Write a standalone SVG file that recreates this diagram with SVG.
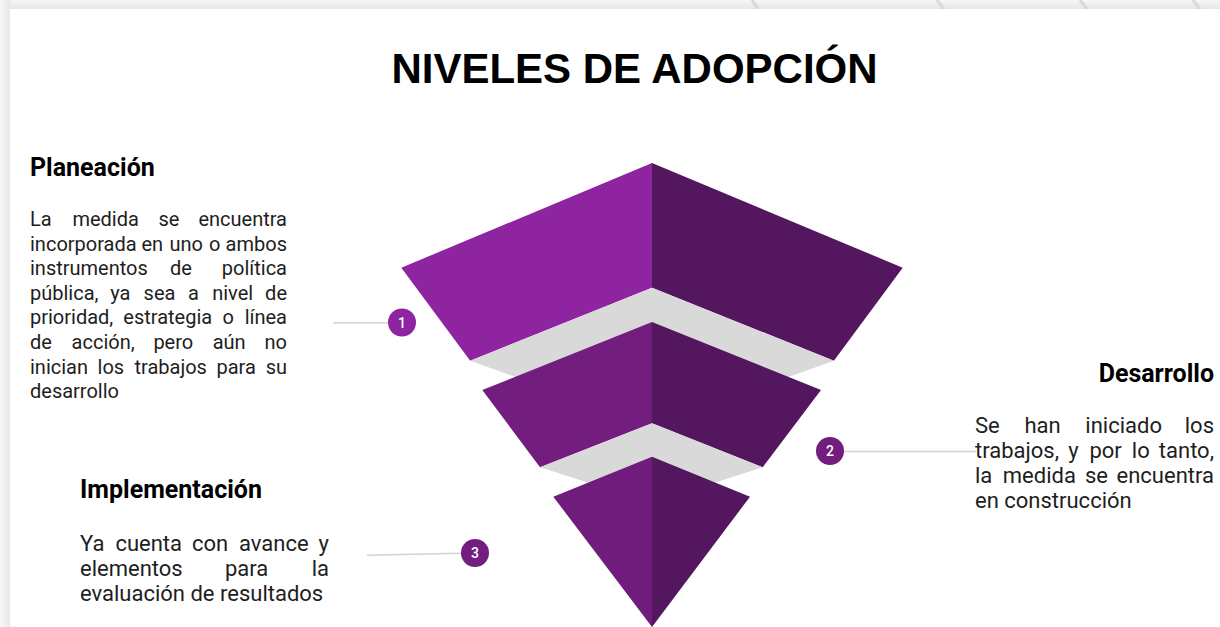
<svg xmlns="http://www.w3.org/2000/svg" width="1220" height="627" viewBox="0 0 1220 627">
<defs>
<linearGradient id="gTop" x1="0" y1="0" x2="0" y2="1"><stop offset="0" stop-color="#f6f6f6"/><stop offset="1" stop-color="#e4e4e4"/></linearGradient>
<linearGradient id="gLeft" x1="0" y1="0" x2="1" y2="0"><stop offset="0" stop-color="#f7f7f7"/><stop offset="1" stop-color="#e6e6e6"/></linearGradient>
</defs>
<style>
.title{font-family:"Liberation Sans",Arial,sans-serif;font-weight:bold;font-size:42px;fill:#000}
.head{font-family:Roboto,"Liberation Sans",sans-serif;font-weight:bold;font-size:25px;fill:#000}
.body20{font-family:Roboto,"Liberation Sans",sans-serif;font-size:20px;fill:#1e1e1e}
.body22{font-family:Roboto,"Liberation Sans",sans-serif;font-size:22px;fill:#1e1e1e}
.num{font-family:Roboto,"Liberation Sans",sans-serif;font-size:14px;font-weight:500;fill:#fff;text-anchor:middle}
.conn{stroke:#d3d3d3;stroke-width:1.6;fill:none}
.grey{fill:#d9d9d9}
.dark{fill:#54165e}
.stripe{stroke:#d8d8d8;stroke-width:3}
</style>
<rect x="0" y="0" width="1220" height="627" fill="#eeeeee"/>
<rect x="0" y="0" width="1220" height="10" fill="url(#gTop)"/>
<rect x="0" y="0" width="11" height="627" fill="url(#gLeft)"/>
<g id="stripes">
<line class="stripe" x1="752" y1="0" x2="758" y2="9"/>
<line class="stripe" x1="937" y1="0" x2="944" y2="9"/>
<line class="stripe" x1="1080" y1="0" x2="1087" y2="9"/>
<line class="stripe" x1="1193" y1="0" x2="1200" y2="9"/>
</g>
<rect x="10" y="9" width="1210" height="618" fill="#ffffff"/>

<text class="title" x="634.5" y="83" text-anchor="middle">NIVELES DE ADOPCIÓN</text>

<g id="connectors">
<line class="conn" x1="333" y1="322.7" x2="390" y2="322.7"/>
<line class="conn" x1="842" y1="451.5" x2="976" y2="451.5"/>
<line class="conn" x1="367" y1="555.3" x2="463" y2="553.3"/>
</g>

<g id="pyramid">
<g id="tier1">
<polygon points="652,163 401.3,267.7 470.2,360.7 652,287.7" fill="#8e24a0"/>
<polygon class="dark" points="652,163 902.7,267.7 833.9,360.7 652,287.7"/>
</g>
<polygon id="band1" class="grey" points="470.2,360.7 652,287.7 833.9,360.7 652,426"/>
<g id="tier2">
<polygon points="652,322 482.3,390 540,467.3 652,423.3" fill="#731d7f"/>
<polygon class="dark" points="652,322 821,390 762.7,467.3 652,423.3"/>
</g>
<polygon id="band2" class="grey" points="540,467.3 652,423.3 762.7,467.3 652,503"/>
<g id="tier3">
<polygon points="652,456.7 553.3,496.7 652,627" fill="#701c7c"/>
<polygon class="dark" points="652,456.7 750,496.7 652,627"/>
</g>
</g>

<g id="badge1">
<circle cx="402" cy="322.5" r="14" fill="#8e24a0"/>
<text class="num" x="402" y="327.5">1</text>
</g>
<g id="badge2">
<circle cx="830" cy="451" r="14" fill="#731d7f"/>
<text class="num" x="830" y="456">2</text>
</g>
<g id="badge3">
<circle cx="475" cy="553" r="14" fill="#731d7f"/>
<text class="num" x="475" y="558">3</text>
</g>

<g id="planeacion">
<text class="head" x="30" y="176">Planeación</text>
<text class="body20" y="226"><tspan x="30">La</tspan><tspan x="72.4">medida</tspan><tspan x="158.5">se</tspan><tspan x="287" text-anchor="end">encuentra</tspan></text>
<text class="body20" y="250.6"><tspan x="30">incorporada</tspan><tspan x="141.4">en</tspan><tspan x="169.4">uno</tspan><tspan x="209.1">o</tspan><tspan x="287" text-anchor="end">ambos</tspan></text>
<text class="body20" y="275.2"><tspan x="30">instrumentos</tspan><tspan x="170">de</tspan><tspan x="287" text-anchor="end">política</tspan></text>
<text class="body20" y="299.8"><tspan x="30">pública,</tspan><tspan x="110.3">ya</tspan><tspan x="143.6">sea</tspan><tspan x="188.1">a</tspan><tspan x="212.2">nivel</tspan><tspan x="287" text-anchor="end">de</tspan></text>
<text class="body20" y="324.4"><tspan x="30">prioridad,</tspan><tspan x="123.3">estrategia</tspan><tspan x="222.5">o</tspan><tspan x="287" text-anchor="end">línea</tspan></text>
<text class="body20" y="349"><tspan x="30">de</tspan><tspan x="71.6">acción,</tspan><tspan x="153.4">pero</tspan><tspan x="212.7">aún</tspan><tspan x="287" text-anchor="end">no</tspan></text>
<text class="body20" y="373.6"><tspan x="30">inician</tspan><tspan x="97.6">los</tspan><tspan x="134.5">trabajos</tspan><tspan x="216.5">para</tspan><tspan x="287" text-anchor="end">su</tspan></text>
<text class="body20" x="30" y="398.2">desarrollo</text>
</g>

<g id="desarrollo">
<text class="head" x="1214" y="382" text-anchor="end">Desarrollo</text>
<text class="body22" y="433"><tspan x="975">Se</tspan><tspan x="1024.5">han</tspan><tspan x="1085.3">iniciado</tspan><tspan x="1214" text-anchor="end">los</tspan></text>
<text class="body22" y="458"><tspan x="975">trabajos,</tspan><tspan x="1068.3">y</tspan><tspan x="1089.4">por</tspan><tspan x="1131.8">lo</tspan><tspan x="1214" text-anchor="end">tanto,</tspan></text>
<text class="body22" y="483"><tspan x="975">la</tspan><tspan x="1002.8">medida</tspan><tspan x="1085">se</tspan><tspan x="1214" text-anchor="end">encuentra</tspan></text>
<text class="body22" x="975" y="508">en construcción</text>
</g>

<g id="implementacion">
<text class="head" x="80" y="498">Implementación</text>
<text class="body22" y="551"><tspan x="80">Ya</tspan><tspan x="115.4">cuenta</tspan><tspan x="192">con</tspan><tspan x="239">avance</tspan><tspan x="329" text-anchor="end">y</tspan></text>
<text class="body22" y="576"><tspan x="80">elementos</tspan><tspan x="224.9">para</tspan><tspan x="329" text-anchor="end">la</tspan></text>
<text class="body22" x="80" y="601">evaluación de resultados</text>
</g>
</svg>
